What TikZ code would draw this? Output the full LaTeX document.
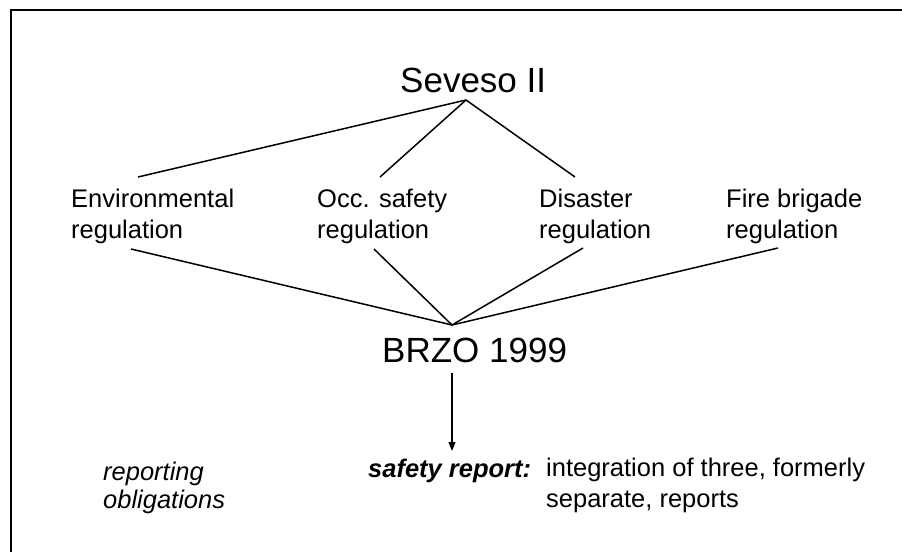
\documentclass[tikz,border=0pt]{standalone}
\usepackage{fontspec}
\setmainfont{Liberation Sans}
\usetikzlibrary{arrows.meta}
\begin{document}
\begin{tikzpicture}[x=1pt,y=-1pt,
  big/.style={inner sep=0pt,anchor=base west,font=\fontsize{35}{40}\selectfont},
  reg/.style={inner sep=0pt,anchor=base west,align=left,font=\fontsize{25.5}{31}\selectfont},
  link/.style={line width=1.5pt},
  frame/.style={line width=1.5pt}]
\useasboundingbox (0,0) rectangle (902,552);
\draw[frame] (11,552) -- (11,10) -- (902,10);
% texts (base = baseline of last line)
\node[big] (sev) at (400,92) {Seveso II};
\node[reg] (env) at (71,238) {Environmental\\regulation};
\node[reg] (occ) at (317,238) {Occ. safety\\regulation};
\node[reg] (dis) at (539,238) {Disaster\\regulation};
\node[reg] (fire) at (726,238) {Fire brigade\\regulation};
\node[big] (brzo) at (382,362) {BRZO 1999};
\node[reg,font=\fontsize{25.5}{28}\selectfont\itshape] (rep) at (103,508) {reporting\\obligations};
\node[reg,font=\fontsize{25.5}{31}\selectfont\bfseries\itshape] (sr) at (368,477) {safety report:};
\node[reg] (integ) at (546,507) {integration of three, formerly\\separate, reports};
% connector end points
\coordinate (sevA) at (466,100);
\coordinate (envT) at (138,177);
\coordinate (occT) at (380,177);
\coordinate (disT) at (575,177);
\coordinate (envB) at (131,249);
\coordinate (occB) at (374,249);
\coordinate (disB) at (583,248);
\coordinate (fireB) at (778,248);
\coordinate (brzoA) at (452,325);
\coordinate (arrS) at (452,373);
\coordinate (arrE) at (452,451);
\draw[link] (sevA) -- (envT);
\draw[link] (sevA) -- (occT);
\draw[link] (sevA) -- (disT);
\draw[link] (envB) -- (brzoA);
\draw[link] (occB) -- (brzoA);
\draw[link] (disB) -- (brzoA);
\draw[link] (fireB) -- (brzoA);
\draw[line width=1.2pt,-{Stealth[length=9pt,width=7pt,inset=0pt]}] (arrS) -- (arrE);
\end{tikzpicture}
\end{document}
